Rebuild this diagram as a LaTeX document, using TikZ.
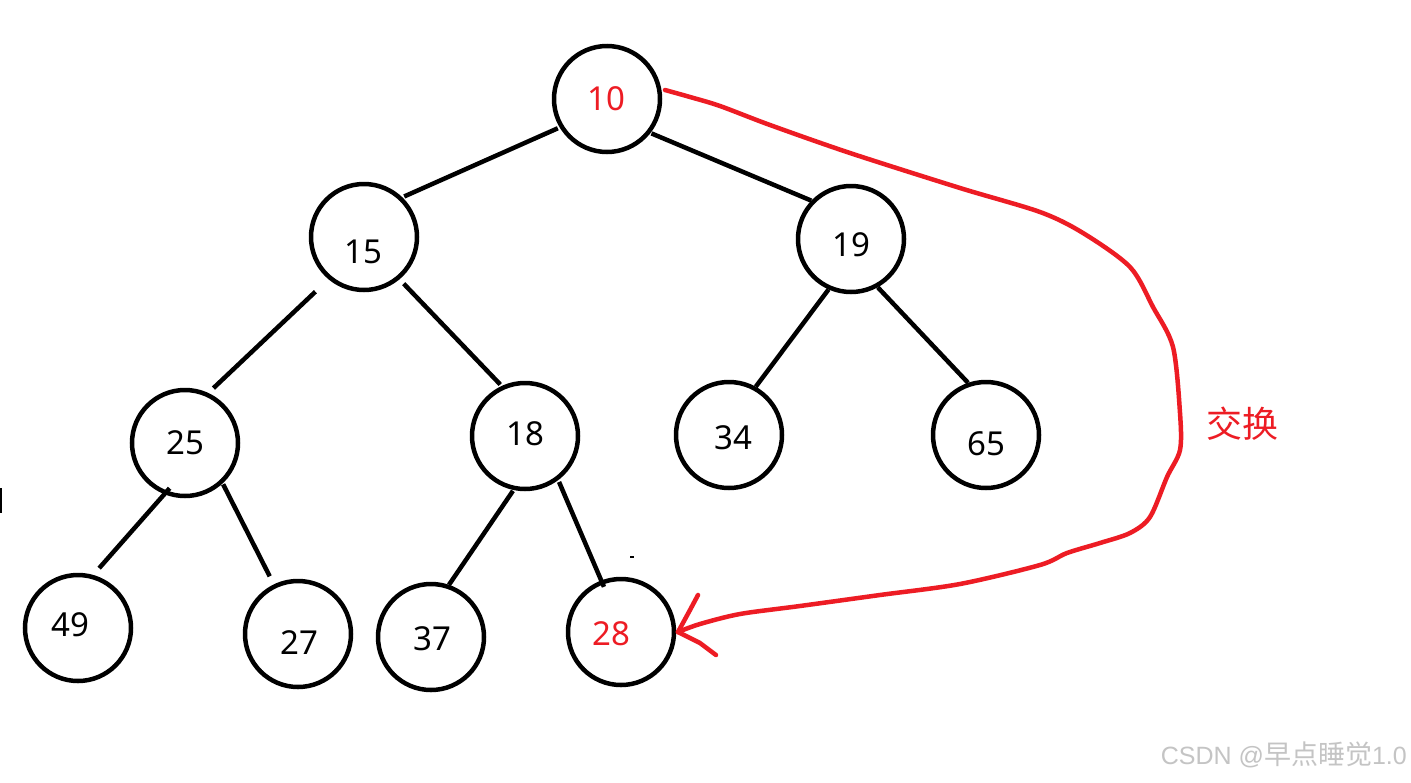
\documentclass[tikz,border=0pt]{standalone}
\usepackage{fontspec}
\setmainfont{Noto Sans}
\newfontfamily\cjk{Noto Sans CJK SC}
\newfontfamily\wmfont{Liberation Sans}
\definecolor{swapred}{HTML}{ED1C24}
\definecolor{wmgray}{HTML}{C4C4C4}
\begin{document}
\begin{tikzpicture}[x=1pt,y=-1pt,
  tnode/.style={circle,draw=black,line width=4.5pt,minimum size=106pt,inner sep=0pt},
  numtxt/.style={font=\fontsize{33}{38}\selectfont,text=black},
  rednum/.style={font=\fontsize{33}{38}\selectfont,text=swapred},
  edge/.style={line width=4.5pt,black},
  swap/.style={line width=4.5pt,swapred,line cap=round,line join=round}]
\useasboundingbox[fill=white] (0,0) rectangle (1411,782);
% nodes
\node[tnode] (n10) at (607,99) {};
\node[tnode] (n15) at (364,237) {};
\node[tnode] (n19) at (851,239) {};
\node[tnode] (n25) at (185,443) {};
\node[tnode] (n18) at (525,436) {};
\node[tnode] (n34) at (729,435) {};
\node[tnode] (n65) at (986,435) {};
\node[tnode] (n49) at (78,628) {};
\node[tnode] (n27) at (298,634) {};
\node[tnode] (n37) at (431,637) {};
\node[tnode] (n28) at (621,632) {};
% labels
\node[rednum] (t10) at (606,99) {10};
\node[numtxt] (t15) at (363,252) {15};
\node[numtxt] (t19) at (851,245) {19};
\node[numtxt] (t25) at (185,443) {25};
\node[numtxt] (t18) at (525,434) {18};
\node[numtxt] (t34) at (733,438) {34};
\node[numtxt] (t65) at (986,444) {65};
\node[numtxt] (t49) at (70,625) {49};
\node[numtxt] (t27) at (299,643) {27};
\node[numtxt] (t37) at (432,639) {37};
\node[rednum] (t28) at (611,634) {28};
% edges
\draw[edge,shorten <=2pt,shorten >=2pt] (n10.211) -- (n15.46);
\draw[edge,shorten <=1pt] (n10.322) -- (n19.136);
\draw[edge,shorten <=18pt,shorten >=7pt] (n15.230) -- (n25.65);
\draw[edge,shorten <=6pt,shorten >=2pt] (n15.310) -- (n18.115);
\draw[edge] (n19.246) -- (n34.61);
\draw[edge] (n19.299) -- (n65.109);
\draw[edge,shorten <=-8pt,shorten >=9pt] (n25.248) -- (n49.74);
\draw[edge,shorten <=1pt,shorten >=9pt] (n25.313) -- (n27.116);
\draw[edge,shorten <=1pt] (n18.258) -- (n37.71);
\draw[edge,shorten <=2pt,shorten >=-7pt] (n18.307) -- (n28.111);
% swap curve
\coordinate (s0) at (665,90);
\coordinate (tip) at (678,632);
\draw[swap] plot[smooth,tension=0.5] coordinates {(665,90) (690,97) (720,106) (770,125) (850,153) (960,188) (1040,212) (1083,233) (1130,267) (1153,307) (1173,347) (1180,413) (1180,450) (1167,477) (1150,517) (1130,533) (1100,543) (1067,553) (1040,565) (960,584) (880,595) (800,606) (740,614) (700,624) (678,632)};
\draw[swap] (tip) -- (690,610) -- (698,595);
\draw[swap] (tip) -- (700,643) -- (716,655);
\node[font=\cjk\fontsize{36}{40}\selectfont,text=swapred] (lbl) at (1242,424) {交换};
\node[font=\wmfont\fontsize{25}{28}\selectfont,text=wmgray,anchor=east,inner sep=0pt] (wm) at (1407,755) {CSDN @{\cjk\fontsize{27}{28}\selectfont 早点睡觉}1.0};
% stray marks
\draw[line width=2pt,black] (1,488) -- (1,513);
\draw[line width=1.5pt,black] (630,557) -- (634,557);
\end{tikzpicture}
\end{document}
